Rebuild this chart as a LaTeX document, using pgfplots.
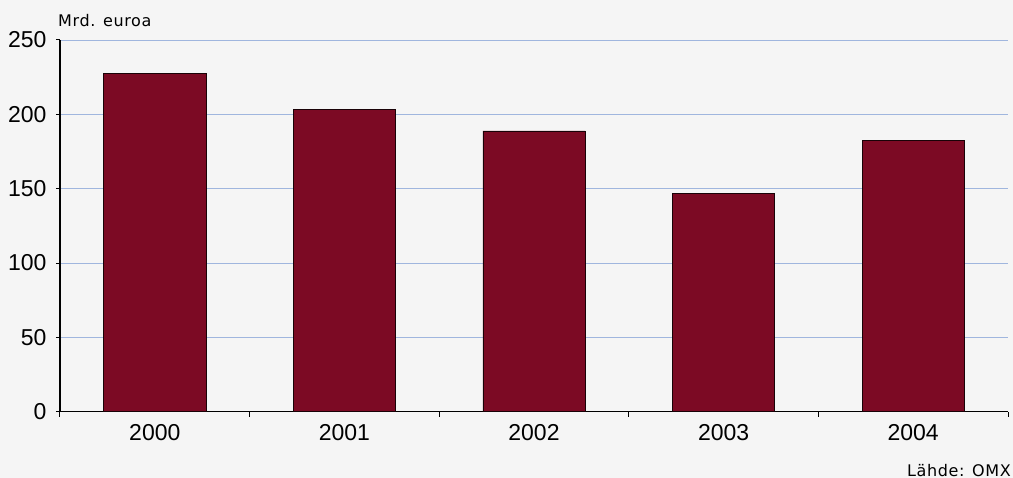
\documentclass[border=0pt]{standalone}
\usepackage{fontspec}
\setmainfont{Liberation Sans}
\newfontfamily\notefont[LetterSpace=4]{DejaVu Sans}
\usepackage{pgfplots}
\pgfplotsset{compat=1.18}

\definecolor{barred}{RGB}{124,10,36}
\definecolor{gridblue}{RGB}{160,182,222}
\definecolor{paper}{RGB}{245,245,245}

\begin{document}
\begin{tikzpicture}
% page background
\fill[paper] (-60pt,-66.3pt) rectangle (953pt,411.7pt);
\begin{axis}[
  at={(0,0)}, anchor=south west,
  scale only axis,
  width=948pt, height=371.7pt,
  ybar, bar width=0.54,
  xmin=-0.5, xmax=4.5,
  ymin=0, ymax=250,
  axis x line*=bottom, axis y line*=left,
  axis line style={black, line width=1.2pt},
  xtick={0,1,2,3,4},
  xticklabels={2000,2001,2002,2003,2004},
  minor xtick={-0.5,0.5,1.5,2.5,3.5,4.5},
  major x tick style={draw=none},
  minor x tick style={black, line width=1pt},
  minor tick length=5pt,
  ytick={0,50,100,150,200,250},
  y tick style={black, line width=1pt},
  major tick length=4pt,
  tick align=outside,
  ymajorgrids,
  grid style={gridblue, line width=0.8pt},
  /pgf/number format/assume math mode=true,
  ticklabel style={font=\fontsize{23}{26}\selectfont},
  yticklabel style={xshift=-6pt},
  xticklabel style={yshift=-5pt},
]
\addplot[fill=barred, draw=black!80!barred, line width=0.6pt]
  coordinates {(0,227.6) (1,203.4) (2,188.8) (3,146.9) (4,182.3)};
\end{axis}
\node[anchor=base west, inner sep=0pt] at (-2pt,385pt)
  {\fontsize{16}{19}\notefont Mrd. euroa};
\node[anchor=base east, inner sep=0pt] at (951pt,-64.5pt)
  {\fontsize{16}{19}\notefont Lähde: OMX};
\end{tikzpicture}
\end{document}
